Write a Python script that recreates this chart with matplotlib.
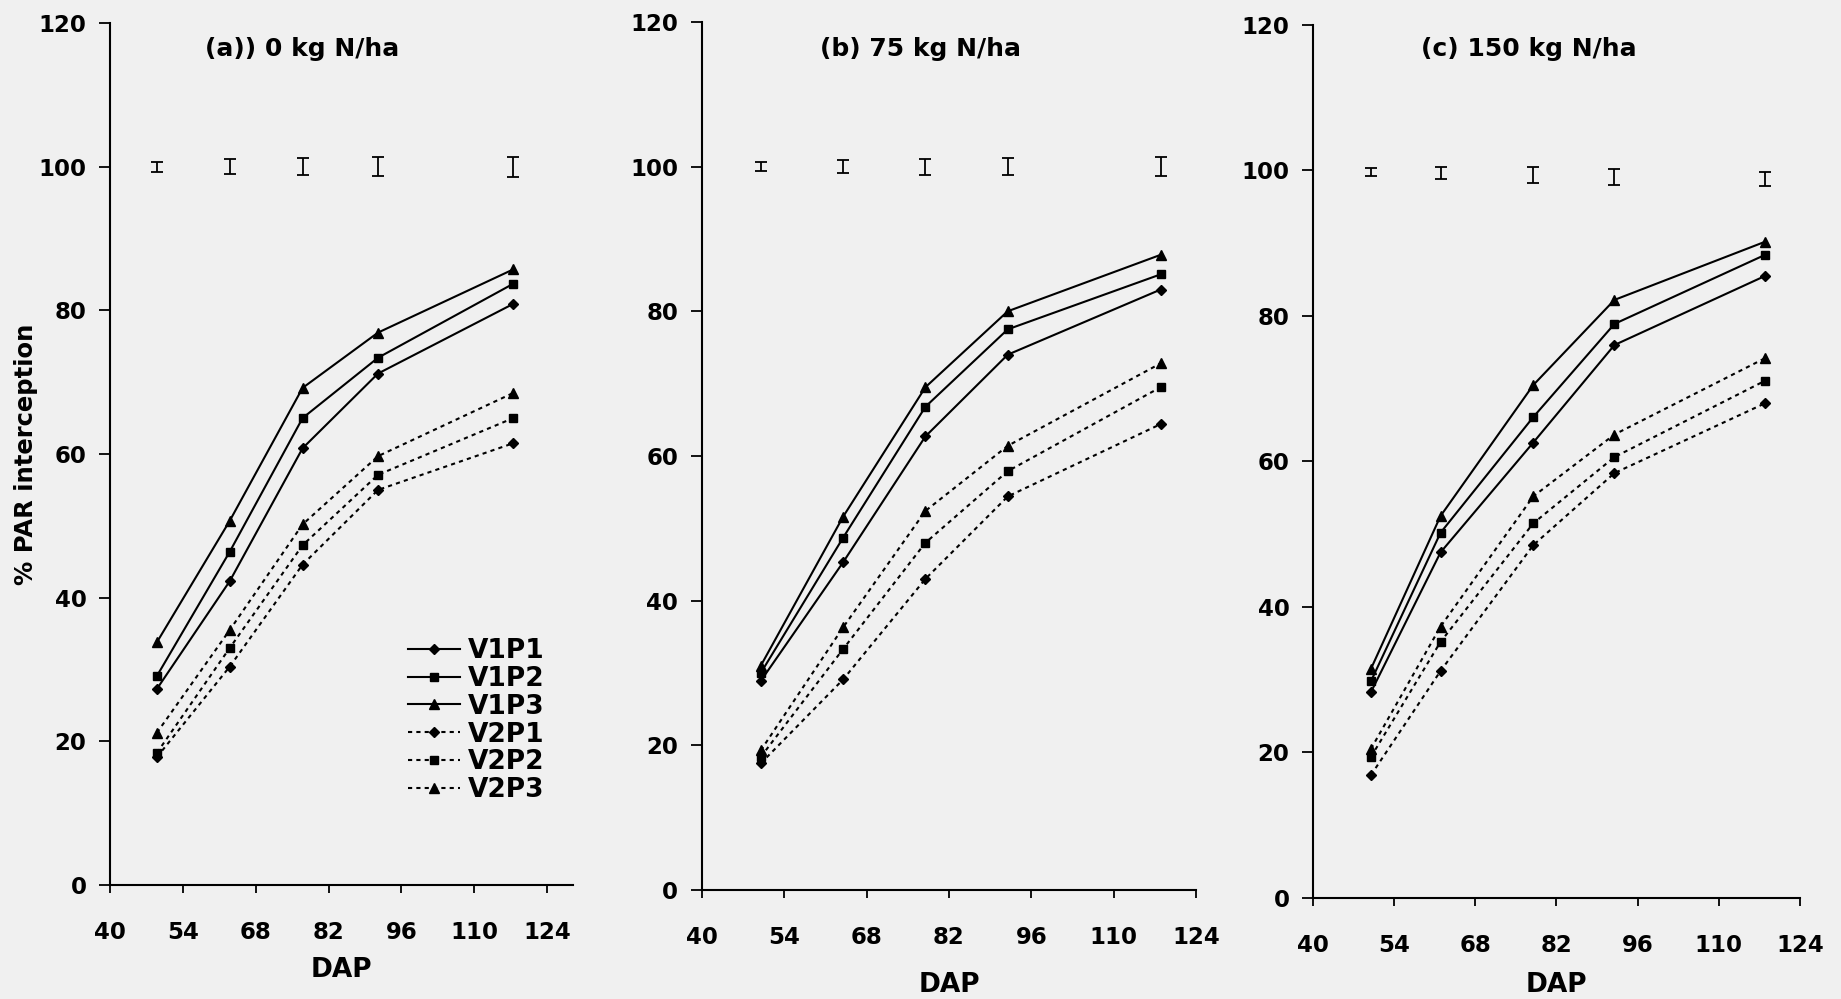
import matplotlib.pyplot as plt

# sampling days (DAP)
dap_a = [49, 63, 77, 91.5, 117.5]
dap_b = [50, 64, 78, 92, 118]
dap_c = [50, 62, 78, 92, 118]

series = ["V1P1", "V1P2", "V1P3", "V2P1", "V2P2", "V2P3"]

# % PAR interception, panel (a) 0 kg N/ha
a_v1p1 = [27.3, 42.3, 60.8, 71.2, 80.9]
a_v1p2 = [29.1, 46.4, 65.0, 73.4, 83.7]
a_v1p3 = [33.8, 50.7, 69.2, 76.9, 85.7]
a_v2p1 = [17.8, 30.4, 44.6, 55.0, 61.5]
a_v2p2 = [18.4, 33.0, 47.3, 57.1, 65.0]
a_v2p3 = [21.2, 35.5, 50.2, 59.7, 68.5]

# panel (b) 75 kg N/ha
b_v1p1 = [28.9, 45.3, 62.7, 74.0, 83.0]
b_v1p2 = [30.0, 48.7, 66.8, 77.5, 85.1]
b_v1p3 = [31.0, 51.6, 69.5, 80.0, 87.8]
b_v2p1 = [17.5, 29.1, 43.0, 54.4, 64.4]
b_v2p2 = [18.4, 33.3, 48.0, 57.9, 69.5]
b_v2p3 = [19.3, 36.3, 52.4, 61.4, 72.8]

# panel (c) 150 kg N/ha
c_v1p1 = [28.3, 47.5, 62.6, 76.0, 85.5]
c_v1p2 = [29.8, 50.2, 66.1, 78.9, 88.4]
c_v1p3 = [31.5, 52.5, 70.5, 82.2, 90.2]
c_v2p1 = [16.9, 31.2, 48.5, 58.4, 68.0]
c_v2p2 = [19.4, 35.2, 51.5, 60.6, 71.1]
c_v2p3 = [20.5, 37.3, 55.2, 63.7, 74.2]

# LSD bars drawn near 100 %
lsd_a = [0.7, 1.0, 1.2, 1.3, 1.4]
lsd_b = [0.6, 0.9, 1.1, 1.2, 1.3]
lsd_c = [0.55, 0.85, 1.1, 1.1, 1.0]
lsd_mid_a = [100, 100, 100, 100, 100]
lsd_mid_b = [100, 100, 100, 100, 100]
lsd_mid_c = [99.8, 99.6, 99.4, 99.1, 98.8]

titles = ["(a)) 0 kg N/ha", "(b) 75 kg N/ha", "(c) 150 kg N/ha"]
xticks = [40, 54, 68, 82, 96, 110, 124]
yticks = [0, 20, 40, 60, 80, 100, 120]

plt.rcParams['font.family'] = ['DejaVu Sans']
plt.rcParams['font.weight'] = 'bold'

fig = plt.figure(figsize=(18.41, 9.99), dpi=100, facecolor='#f0f0f0')

# axes boxes in figure fractions
boxes = [
    [0.0598, 0.1141, 0.2515, 0.8629],
    [0.3813, 0.1091, 0.2683, 0.8690],
    [0.7132, 0.1011, 0.2645, 0.8740],
]
xmax = [129, 124, 124]
title_pos = [(0.415, 0.970), (0.443, 0.969), (0.4435, 0.9725)]
xlabel_y = [-0.099, -0.109, -0.100]

panels = [
    (dap_a, [a_v1p1, a_v1p2, a_v1p3, a_v2p1, a_v2p2, a_v2p3], lsd_a, lsd_mid_a),
    (dap_b, [b_v1p1, b_v1p2, b_v1p3, b_v2p1, b_v2p2, b_v2p3], lsd_b, lsd_mid_b),
    (dap_c, [c_v1p1, c_v1p2, c_v1p3, c_v2p1, c_v2p2, c_v2p3], lsd_c, lsd_mid_c),
]

markers = ['D', 's', '^', 'D', 's', '^']
msizes = [5, 6, 6.5, 5, 6, 6.5]
styles = ['-', '-', '-', (0, (2, 2)), (0, (2, 2)), (0, (2, 2))]

for i, (dap, vals, lsd, mid) in enumerate(panels):
    ax = fig.add_axes(boxes[i])
    ax.set_facecolor('none')
    for k, name in enumerate(series):
        ax.plot(dap, vals[k], color='black', linestyle=styles[k], linewidth=1.5,
                marker=markers[k], markersize=msizes[k], label=name)
    ax.errorbar(dap, mid, yerr=lsd, fmt='none', ecolor='black',
                elinewidth=1.3, capsize=4, capthick=1.3)

    ax.set_xlim(40, xmax[i])
    ax.set_ylim(0, 120)
    ax.set_xticks(xticks)
    ax.set_yticks(yticks)
    for s in ['top', 'right']:
        ax.spines[s].set_visible(False)
    for s in ['left', 'bottom']:
        ax.spines[s].set_linewidth(1.5)
    ax.tick_params(axis='x', direction='out', length=6, width=1.3, pad=20, labelsize=16.5)
    ax.tick_params(axis='y', direction='out', length=8, width=1.3, pad=9, labelsize=16.5)

    ax.text(title_pos[i][0], title_pos[i][1], titles[i], transform=ax.transAxes,
            ha='center', va='center', fontsize=18, fontweight='bold')
    ax.set_xlabel("DAP", fontsize=19, fontweight='bold', va='center')
    ax.xaxis.set_label_coords(0.5, xlabel_y[i])

    if i == 0:
        ax.set_ylabel("% PAR interception", fontsize=17.5, fontweight='bold', va='center')
        ax.yaxis.set_label_coords(-0.181, 0.5)
        ax.legend(loc='upper left', bbox_to_anchor=(0.644, 0.2865), frameon=False,
                  fontsize=19, handlelength=1.97, handletextpad=0.3,
                  labelspacing=0.07, borderpad=0, borderaxespad=0)

plt.savefig("out.png", dpi=100, facecolor=fig.get_facecolor())
